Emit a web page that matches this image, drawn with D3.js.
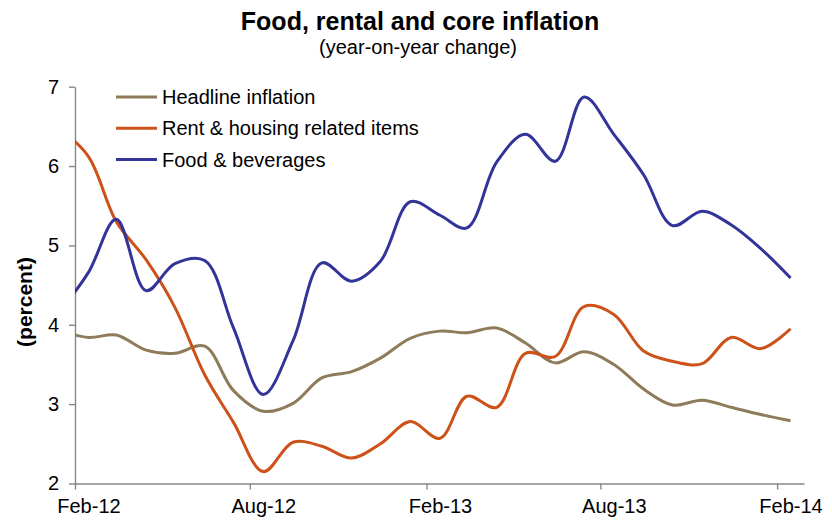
<!DOCTYPE html>
<html>
<head>
<meta charset="utf-8">
<script src="https://cdn.jsdelivr.net/npm/d3@7"></script>
<style>
  html, body { margin: 0; padding: 0; background: #fff; }
  svg { display: block; font-family: Arial, "Liberation Sans", sans-serif; }
</style>
</head>
<body>
<svg id="chart" width="832" height="523"></svg>
<script>
// Monthly readings (plotted mid-month), Jan 2012 – Feb 2014
const months = [
  "2012-01","2012-02","2012-03","2012-04","2012-05","2012-06","2012-07","2012-08","2012-09","2012-10","2012-11","2012-12",
  "2013-01","2013-02","2013-03","2013-04","2013-05","2013-06","2013-07","2013-08","2013-09","2013-10","2013-11","2013-12",
  "2014-01","2014-02"
];
const headline = [3.93, 3.84, 3.87, 3.68, 3.64, 3.73, 3.17, 2.91, 3.01, 3.33, 3.41, 3.58,
                  3.83, 3.92, 3.90, 3.96, 3.77, 3.52, 3.66, 3.50, 3.19, 2.99, 3.05, 2.96,
                  2.87, 2.79];
const rent     = [6.48, 6.12, 5.30, 4.82, 4.22, 3.37, 2.77, 2.15, 2.52, 2.47, 2.32, 2.50,
                  2.78, 2.57, 3.10, 2.96, 3.64, 3.60, 4.23, 4.13, 3.67, 3.54, 3.51, 3.84,
                  3.70, 3.95];
const food     = [4.15, 4.66, 5.33, 4.43, 4.77, 4.81, 3.96, 3.12, 3.80, 4.78, 4.55, 4.80,
                  5.55, 5.38, 5.22, 6.05, 6.40, 6.06, 6.87, 6.40, 5.89, 5.25, 5.43, 5.26,
                  4.96, 4.59];

const seriesNames  = ["Headline inflation", "Rent & housing related items", "Food & beverages"];
const seriesColors = ["#8E7B5A", "#CC5219", "#33349A"];
const yTicks = [2, 3, 4, 5, 6, 7];
const xTickMonths = ["2012-02", "2012-08", "2013-02", "2013-08", "2014-02"];

const parseMonth = d3.timeParse("%Y-%m");
const midMonth = s => d3.timeDay.offset(parseMonth(s), 14);
const fmt = d3.timeFormat("%b-%y");

const svg = d3.select("#chart");

const x = d3.scaleTime()
  .domain([parseMonth("2012-02"), parseMonth("2014-03")])
  .range([75, 804]);
const y = d3.scaleLinear().domain([2, 7]).range([483.5, 86.7]);

const axisColor = "#878787";

// Title
svg.append("text")
  .attr("x", 420).attr("y", 30)
  .attr("text-anchor", "middle")
  .attr("font-size", 25).attr("font-weight", "bold")
  .text("Food, rental and core inflation");
svg.append("text")
  .attr("x", 418).attr("y", 54)
  .attr("text-anchor", "middle")
  .attr("font-size", 20)
  .text("(year-on-year change)");

// Y axis
const yAxis = svg.append("g")
  .attr("transform", `translate(${x.range()[0]},0)`)
  .call(d3.axisLeft(y).tickValues(yTicks).tickFormat(d3.format("d"))
    .tickSize(6).tickSizeOuter(0).tickPadding(10));
yAxis.selectAll("path, line").attr("stroke", axisColor).attr("stroke-width", 1.4);
yAxis.selectAll("text").attr("font-size", 20).attr("fill", "#000")
  .attr("font-family", "Arial, 'Liberation Sans', sans-serif");

// X axis
const xAxis = svg.append("g")
  .attr("transform", `translate(0,${y(2)})`)
  .call(d3.axisBottom(x).tickValues(xTickMonths.map(parseMonth))
    .tickFormat(fmt).tickSize(6).tickSizeOuter(0).tickPadding(9));
xAxis.selectAll("path, line").attr("stroke", axisColor).attr("stroke-width", 1.4);
xAxis.selectAll("text").attr("font-size", 20).attr("fill", "#000")
  .attr("font-family", "Arial, 'Liberation Sans', sans-serif")
  .attr("dx", d => x(d3.timeDay.offset(d, 14)) - x(d));

// Y axis title
svg.append("text")
  .attr("transform", "translate(32,302) rotate(-90)")
  .attr("text-anchor", "middle")
  .attr("font-size", 21).attr("font-weight", "bold")
  .text("(percent)");

// Plot clip
svg.append("clipPath").attr("id", "plot-clip")
  .append("rect")
  .attr("x", x.range()[0]).attr("y", 0)
  .attr("width", x.range()[1] - x.range()[0]).attr("height", y(2));

const dates = months.map(midMonth);
const line = d3.line()
  .x((d, i) => x(dates[i]))
  .y(d => y(d))
  .curve(d3.curveCatmullRom.alpha(0.5));

const series = [headline, rent, food];
const plot = svg.append("g").attr("clip-path", "url(#plot-clip)");
series.forEach((vals, k) => {
  plot.append("path")
    .datum(vals)
    .attr("fill", "none")
    .attr("stroke", seriesColors[k])
    .attr("stroke-width", 3)
    .attr("stroke-linejoin", "round")
    .attr("d", line);
});

// Legend
const legend = svg.append("g").attr("transform", "translate(116,97)");
seriesNames.forEach((name, k) => {
  const row = legend.append("g").attr("transform", `translate(0,${k * 31.3})`);
  row.append("line")
    .attr("x1", 0).attr("x2", 41).attr("y1", 0).attr("y2", 0)
    .attr("stroke", seriesColors[k]).attr("stroke-width", 3);
  row.append("text")
    .attr("x", 46).attr("y", 0).attr("dy", "0.35em")
    .attr("font-size", 20)
    .text(name);
});
</script>
</body>
</html>
